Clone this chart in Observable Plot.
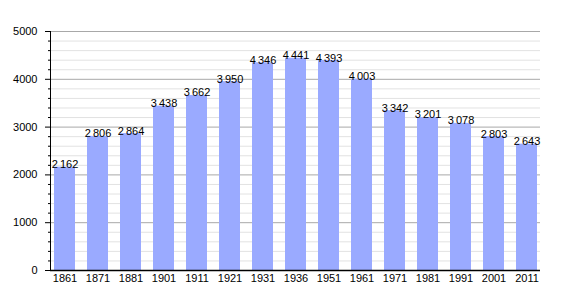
<!DOCTYPE html>
<html>
<head>
<meta charset="utf-8">
<script src="https://cdn.jsdelivr.net/npm/d3@7"></script>
<script src="https://cdn.jsdelivr.net/npm/@observablehq/plot@0.6"></script>
<style>
  html, body { margin: 0; padding: 0; background: #fff; }
</style>
</head>
<body>
<div id="chart"></div>
<script>
const years = ["1861","1871","1881","1901","1911","1921","1931","1936","1951","1961","1971","1981","1991","2001","2011"];
const population = [2162, 2806, 2864, 3438, 3662, 3950, 4346, 4441, 4393, 4003, 3342, 3201, 3078, 2803, 2643];
const majorTicks = [0, 1000, 2000, 3000, 4000, 5000];
const minorTicks = d3.range(0, 5001, 200).filter(d => d % 1000 !== 0);

const data = years.map((y, i) => ({year: y, value: population[i]}));
const fmt = v => String(v).replace(/\B(?=(\d{3})+(?!\d))/g, "\u2009");

const chart = Plot.plot({
  width: 570,
  height: 300,
  marginTop: 31,
  marginBottom: 30,
  marginLeft: 50,
  marginRight: 30,
  style: {fontFamily: "'Liberation Sans', Arial, sans-serif", fontSize: "11px", color: "#000", background: "#fff"},
  x: {type: "band", domain: years, paddingInner: 0.37, paddingOuter: 0, label: null},
  y: {domain: [0, 5000], label: null},
  marks: [
    Plot.ruleY(minorTicks, {stroke: "#e2e2e2", strokeWidth: 1}),
    Plot.ruleY(majorTicks.filter(d => d > 0), {stroke: "#a8a8a8", strokeWidth: 1}),
    Plot.barY(data, {x: "year", y: "value", fill: "#9aaaff"}),
    Plot.text(data, {x: "year", y: "value", text: d => fmt(d.value), lineAnchor: "bottom", dy: 1, fill: "#000", fontSize: 11}),
    Plot.axisY({ticks: minorTicks, tickSize: 2, tickFormat: () => "", stroke: "#000"}),
    Plot.axisY({ticks: majorTicks, tickSize: 5, tickPadding: 8, tickFormat: d => String(d), stroke: "#000", fontSize: 11}),
    Plot.axisX({tickSize: 0, tickPadding: 4, fontSize: 11}),
    Plot.frame({anchor: "left", stroke: "#000"}),
    Plot.ruleY([0], {stroke: "#000", strokeWidth: 1.5})
  ]
});
document.getElementById("chart").appendChild(chart);
</script>
</body>
</html>
